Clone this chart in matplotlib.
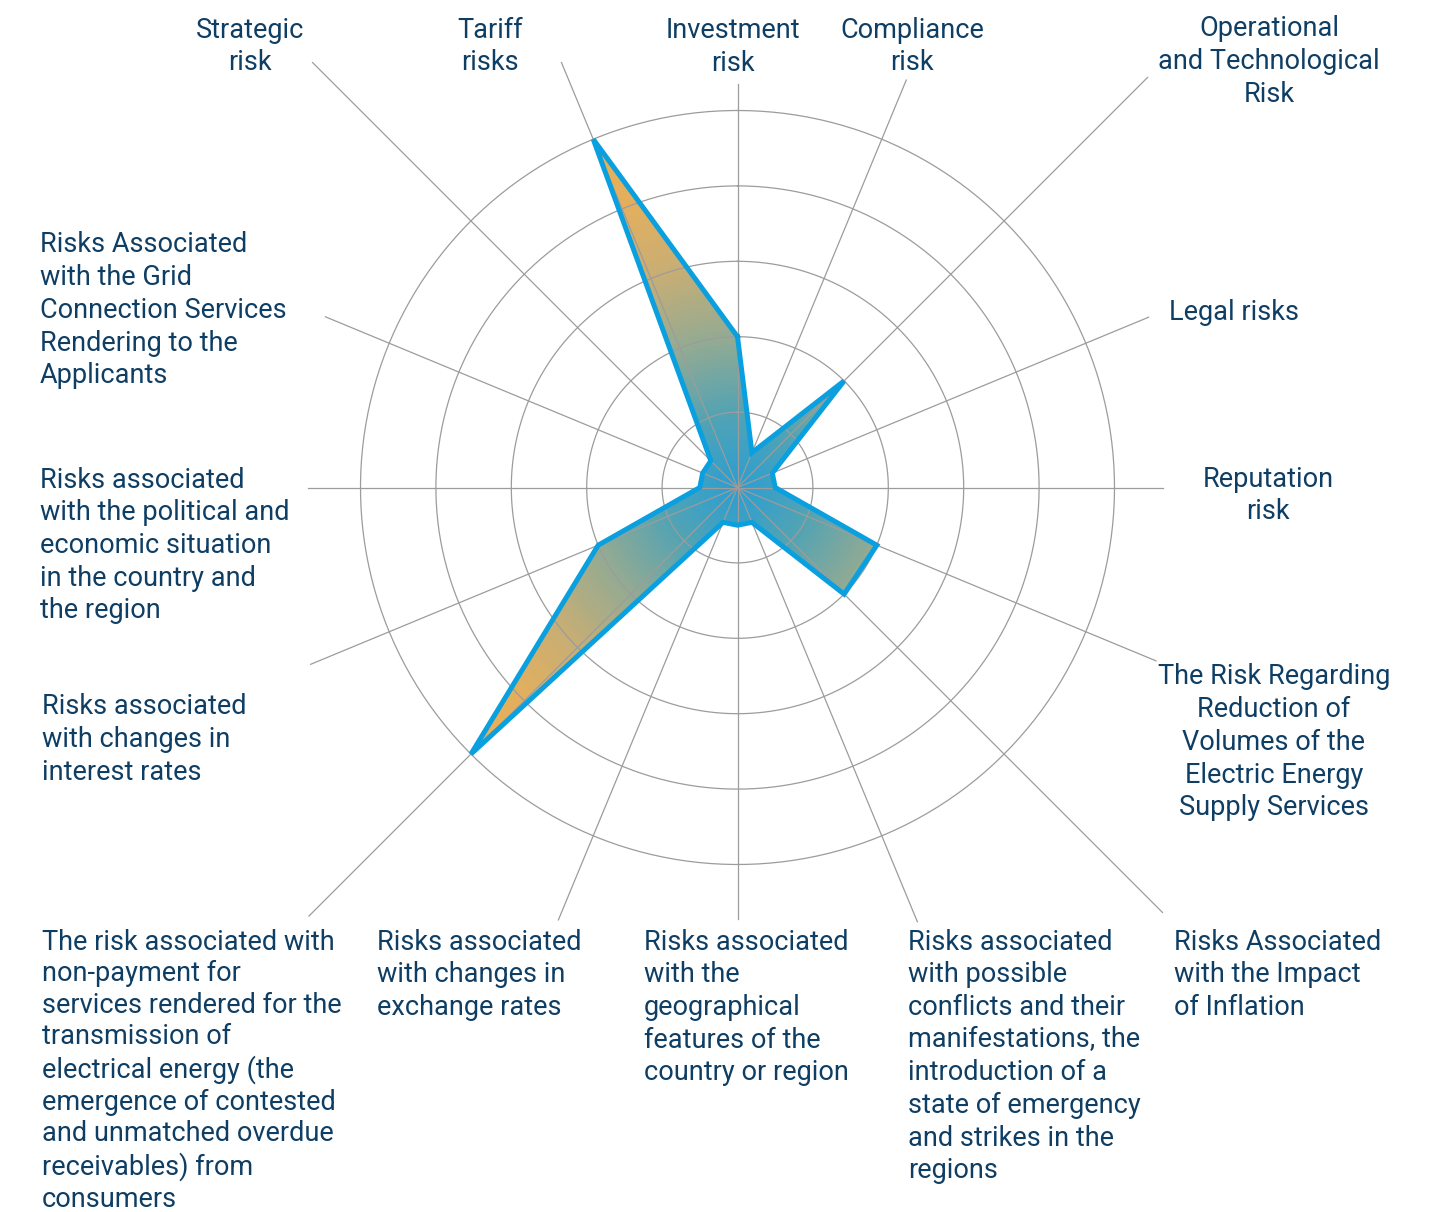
import numpy as np
import matplotlib
matplotlib.use("Agg")
import matplotlib.pyplot as plt
from matplotlib.colors import LinearSegmentedColormap

plt.rcParams["font.family"] = ["Roboto", "DejaVu Sans"]

# risk categories, clockwise from the top
categories = [
    "Investment\nrisk",
    "Compliance\nrisk",
    "Operational\nand Technological\nRisk",
    "Legal risks",
    "Reputation\nrisk",
    "The Risk Regarding\nReduction of\nVolumes of the\nElectric Energy\nSupply Services",
    "Risks Associated\nwith the Impact\nof Inflation",
    "Risks associated\nwith possible\nconflicts and their\nmanifestations, the\nintroduction of a\n"
    "state of emergency\nand strikes in the\nregions",
    "Risks associated\nwith the\ngeographical\nfeatures of the\ncountry or region",
    "Risks associated\nwith changes in\nexchange rates",
    "The risk associated with\nnon-payment for\nservices rendered for the\ntransmission of\n"
    "electrical energy (the\nemergence of contested\nand unmatched overdue\nreceivables) from\nconsumers",
    "Risks associated\nwith changes in\ninterest rates",
    "Risks associated\nwith the political and\neconomic situation\nin the country and\nthe region",
    "Risks Associated\nwith the Grid\nConnection Services\nRendering to the\nApplicants",
    "Strategic\nrisk",
    "Tariff\nrisks",
]
values = [2, 0.5, 2, 0.5, 0.5, 2, 2, 0.5, 0.5, 0.5, 5, 2, 0.5, 0.5, 0.5, 5]
rings = [1, 2, 3, 4, 5]

# layout (pixels of the 1431x1212 canvas)
W, H = 1431, 1212
cx, cy = 737.5, 487.5
unit = 75.4                      # pixels per ring step
rmax = 8.2
spoke_px = [404, 441, 580, 445, 425, 453, 601, 470, 431, 468, 606, 462, 430, 446, 601, 460]
# (x, first baseline, alignment, line spacing)
label_pos = [(733, 39, "center", 1.27), (912, 38, "center", 1.27), (1269, 37, "center", 1.27),
             (1169, 320, "left", 1.27), (1268, 487, "center", 1.27), (1274, 685, "center", 1.27),
             (1174, 950, "left", 1.27), (908, 950, "left", 1.27), (644, 950, "left", 1.27),
             (377, 950, "left", 1.27), (42, 950, "left", 1.22), (42, 715, "left", 1.27),
             (40, 488, "left", 1.27), (40, 253, "left", 1.27), (250, 38, "center", 1.27),
             (490, 38, "center", 1.27)]

text_color = "#0f3e64"
grid_color = "#9c9c9c"
edge_color = "#0aa0e0"
cmap = LinearSegmentedColormap.from_list(
    "risk", [(0.0, "#2a9ed3"), (0.19, "#52a3b3"), (0.38, "#93aa93"),
             (0.58, "#c8ae74"), (0.77, "#e3af5e"), (1.0, "#ebaf52")])

fig = plt.figure(figsize=(W / 100, H / 100), dpi=100)
R = rmax * unit
ax = fig.add_axes([(cx - R) / W, (H - cy - R) / H, 2 * R / W, 2 * R / H], projection="polar")
ax.set_theta_zero_location("N")
ax.set_theta_direction(-1)
ax.set_ylim(0, rmax)
ax.set_xticks([])
ax.set_yticks([])
ax.grid(False)
ax.spines["polar"].set_visible(False)
ax.patch.set_visible(False)

n = len(values)
angles = np.arange(n) * 2 * np.pi / n
theta_c = np.append(angles, angles[0])
vals_c = np.append(values, values[0])

# gradient fill, clipped to the polygon
poly = ax.fill(theta_c, vals_c, facecolor="none", edgecolor="none")[0]
tg = np.linspace(0, 2 * np.pi, 361)
rg = np.linspace(0, 5.3, 160)
T, Rg = np.meshgrid(tg, rg)
C = 0.5 * (rg[:-1] + rg[1:])[:, None] * np.ones((1, len(tg) - 1))
mesh = ax.pcolormesh(T, Rg, C, cmap=cmap, vmin=0, vmax=5.2, shading="flat", zorder=1)
mesh.set_clip_path(poly)

# grid
circ = np.linspace(0, 2 * np.pi, 400)
for r in rings:
    ax.plot(circ, np.full_like(circ, r), color=grid_color, lw=0.9, zorder=2)
for a, L in zip(angles, spoke_px):
    ax.plot([a, a], [0, L / unit], color=grid_color, lw=0.9, zorder=2)

ax.plot(theta_c, vals_c, color=edge_color, lw=3.6, solid_joinstyle="miter", zorder=3)

# labels
for text, (x, yb, ha, ls) in zip(categories, label_pos):
    fig.text(x / W, 1 - (yb - 21.5) / H, text, ha=ha, va="top", fontsize=19.5,
             color=text_color, linespacing=ls)

fig.savefig("out.png", dpi=100)
